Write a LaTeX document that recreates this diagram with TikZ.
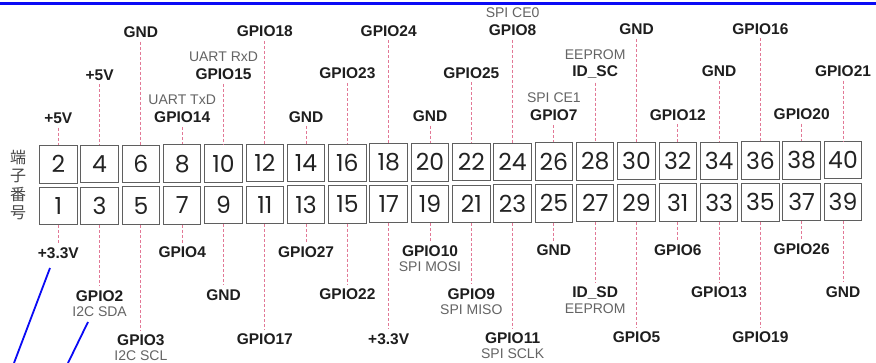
\documentclass[tikz,border=0pt]{standalone}
\usepackage{fontspec}
\setmainfont{Liberation Sans}
\newfontfamily\numfont{Poppins}
\newfontfamily\cjkfont{Noto Sans CJK JP}
\usetikzlibrary{calc}
\definecolor{pinkc}{RGB}{226,120,150}
\definecolor{boxc}{RGB}{95,95,95}
\definecolor{numc}{RGB}{35,35,35}
\definecolor{labc}{RGB}{30,30,30}
\definecolor{subc}{RGB}{100,100,100}
\definecolor{jpc}{RGB}{70,70,70}
\definecolor{annblue}{RGB}{10,10,245}
\begin{document}
\begin{tikzpicture}[x=1pt,y=-1pt,
  pinbox/.style={draw=boxc, line width=1pt, minimum width=37.5pt, minimum height=37.5pt, inner sep=0pt, font=\numfont\fontsize{23.5}{23.5}\selectfont, text=numc},
  lab/.style={font=\bfseries\fontsize{15.5}{17}\selectfont, text=labc, inner sep=4pt},
  sublab/.style={font=\fontsize{14}{16}\selectfont, text=subc, inner sep=1pt},
  pinline/.style={draw=pinkc, dash pattern=on 3pt off 2pt, line width=0.9pt},
  annline/.style={draw=annblue, line width=1.8pt}]
\useasboundingbox (0,0) rectangle (876,363);
\fill[white] (0,0) rectangle (876,363);
% top blue rule
\fill[annblue] (0,2.4) rectangle (876,4.8);
% vertical Japanese label
\node[font=\cjkfont\fontsize{16}{18.5}\selectfont, text=jpc, align=center, inner sep=0pt] (jp) at (18,185) {端\\子\\番\\号};
% even pins (top row)
\foreach \lab [count=\j] in {+5V,+5V,GND,GPIO14,GPIO15,GPIO18,GND,GPIO23,GPIO24,GND,GPIO25,GPIO8,GPIO7,ID\_SC,GND,GPIO12,GND,GPIO16,GPIO20,GPIO21}{
  \pgfmathsetmacro\px{58.3+(\j-1)*41.3}
  \pgfmathsetmacro\tilt{-(\j-1)*0.22}
  \pgfmathtruncatemacro\k{mod(\j-1,3)}
  \pgfmathsetmacro\ty{(\k==0)*118+(\k==1)*75+(\k==2)*32.5+\tilt}
  \pgfmathsetmacro\by{164.3+\tilt}
  \pgfmathtruncatemacro\n{2*\j}
  \node[pinbox] (bt\n) at (\px,\by) {\n};
  \node[lab] (lt\n) at (\px,\ty) {\lab};
  \draw[pinline] (lt\n.south) -- (bt\n.north);
}
% odd pins (bottom row)
\foreach \lab [count=\j] in {+3.3V,GPIO2,GPIO3,GPIO4,GND,GPIO17,GPIO27,GPIO22,+3.3V,GPIO10,GPIO9,GPIO11,GND,ID\_SD,GPIO5,GPIO6,GPIO13,GPIO19,GPIO26,GND}{
  \pgfmathsetmacro\px{58.3+(\j-1)*41.3}
  \pgfmathsetmacro\tilt{-(\j-1)*0.22}
  \pgfmathtruncatemacro\k{mod(\j-1,3)}
  \pgfmathsetmacro\ty{(\k==0)*253+(\k==1)*296+(\k==2)*340.5+\tilt}
  \pgfmathsetmacro\by{206+\tilt}
  \pgfmathtruncatemacro\n{2*\j-1}
  \node[pinbox] (bb\n) at (\px,\by) {\n};
  \node[lab] (lb\n) at (\px,\ty) {\lab};
  \draw[pinline] (bb\n.south) -- (lb\n.north);
}
% secondary function labels (top)
\foreach \p/\s in {8/UART TxD,10/UART RxD,24/SPI CE0,26/SPI CE1,28/EEPROM}{
  \node[sublab] (st\p) at ($(lt\p)+(0,-17.5)$) {\s};
}
% secondary function labels (bottom)
\foreach \p/\s in {3/I2C SDA,5/I2C SCL,19/SPI MOSI,21/SPI MISO,23/SPI SCLK,27/EEPROM}{
  \node[sublab] (sb\p) at ($(lb\p)+(0,15.5)$) {\s};
}
% blue annotation strokes
\coordinate (a1) at (50,268);
\coordinate (a2) at (14,363);
\coordinate (b1) at (88,322);
\coordinate (b2) at (68,363);
\draw[annline] (a1) -- (a2);
\draw[annline] (b1) -- (b2);
\end{tikzpicture}
\end{document}
